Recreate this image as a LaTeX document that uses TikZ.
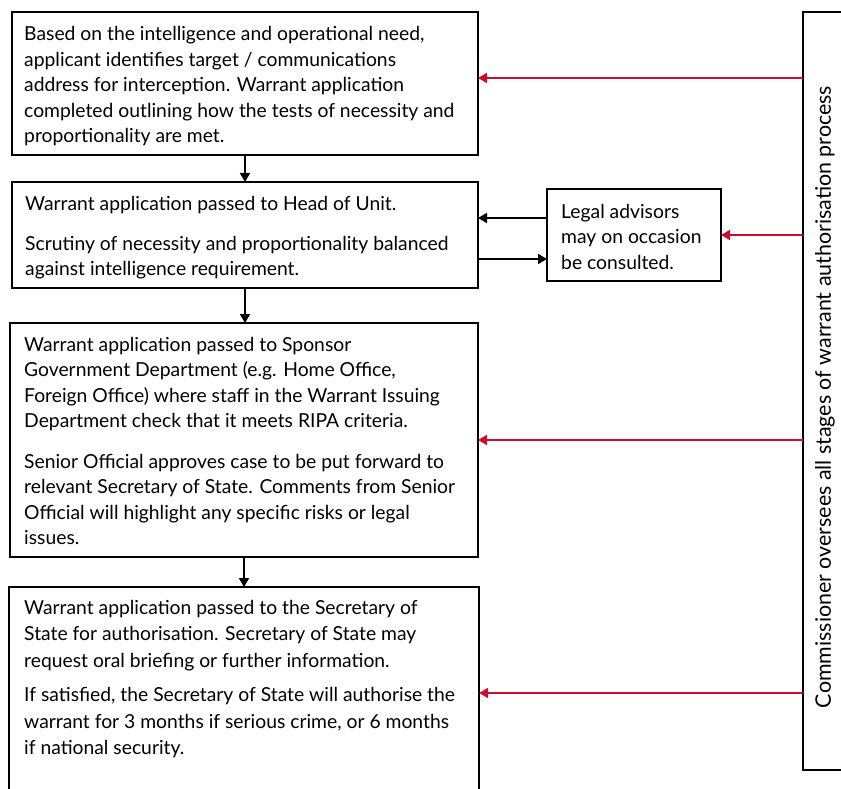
\documentclass[tikz,border=0pt]{standalone}
\usepackage{fontspec}
\setmainfont{Lato}
\usetikzlibrary{arrows.meta}
\definecolor{cred}{RGB}{200,16,46}
\begin{document}
\begin{tikzpicture}[x=1pt,y=-1pt,
 box/.style={draw,line width=1.7pt,anchor=north west,inner sep=0pt,outer sep=0pt},
 txt/.style={anchor=north west,align=left,inner sep=0pt,font=\fontsize{19.3}{25.5}\selectfont},
 blk/.style={-{Triangle[length=9pt,width=10pt]},line width=1.7pt},
 redarr/.style={cred,-{Triangle[length=9pt,width=10pt]},line width=1.7pt}]
\useasboundingbox (0,0) rectangle (841,789);
\clip (0,0) rectangle (841,789);
\node[box,minimum width=466pt,minimum height=143pt] (b1) at (12,12) {};
\node[box,minimum width=466pt,minimum height=106pt] (b2) at (12,182) {};
\node[box,minimum width=468pt,minimum height=234pt] (b3) at (10,323) {};
\node[box,minimum width=470pt,minimum height=240pt] (b4) at (9,587) {};
\node[box,minimum width=174pt,minimum height=92pt] (legal) at (547,189) {};
\node[box,minimum width=60pt,minimum height=758pt] (cm) at (803,12) {};

\node[txt] (t1) at (24,26.5) {Based on the intelligence and operational need,\\
applicant identifies target / communications\\
address for interception. Warrant application\\
completed outlining how the tests of necessity and\\
proportionality are met.};
\node[txt] (t2) at (25,196.5) {Warrant application passed to Head of Unit.\\[14pt]
Scrutiny of necessity and proportionality balanced\\
against intelligence requirement.};
\node[txt] (t3) at (24,337) {Warrant application passed to Sponsor\\
Government Department (e.g. Home Office,\\
Foreign Office) where staff in the Warrant Issuing\\
Department check that it meets RIPA criteria.\\[15pt]
Senior Official approves case to be put forward to\\
relevant Secretary of State. Comments from Senior\\
Official will highlight any specific risks or legal\\
issues.};
\node[txt,font=\fontsize{19.3}{26.5}\selectfont] (t4) at (24,600) {Warrant application passed to the Secretary of\\
State for authorisation. Secretary of State may\\
request oral briefing or further information.\\[8pt]
If satisfied, the Secretary of State will authorise the\\
warrant for 3 months if serious crime, or 6 months\\
if national security.};
\node[txt] (tl) at (561,204) {Legal advisors\\
may on occasion\\
be consulted.};
\node[rotate=90,inner sep=0pt,font=\fontsize{21.4}{24}\selectfont] (tc) at (825,397) {Commissioner oversees all stages of warrant authorisation process};

\draw[blk] (b1.south) -- (b1.south |- b2.north);
\draw[blk] (b2.south) -- (b2.south |- b3.north);
\draw[blk] (b3.south) -- (b3.south |- b4.north);
\draw[blk] (legal.west |- 0,218) -- (b2.east |- 0,218);
\draw[blk] (b2.east |- 0,259) -- (legal.west |- 0,259);
\draw[redarr] (cm.west |- 0,78) -- (b1.east |- 0,78);
\draw[redarr] (cm.west |- 0,235) -- (legal.east |- 0,235);
\draw[redarr] (cm.west |- 0,440) -- (b3.east |- 0,440);
\draw[redarr] (cm.west |- 0,693) -- (b4.east |- 0,693);
\end{tikzpicture}
\end{document}
